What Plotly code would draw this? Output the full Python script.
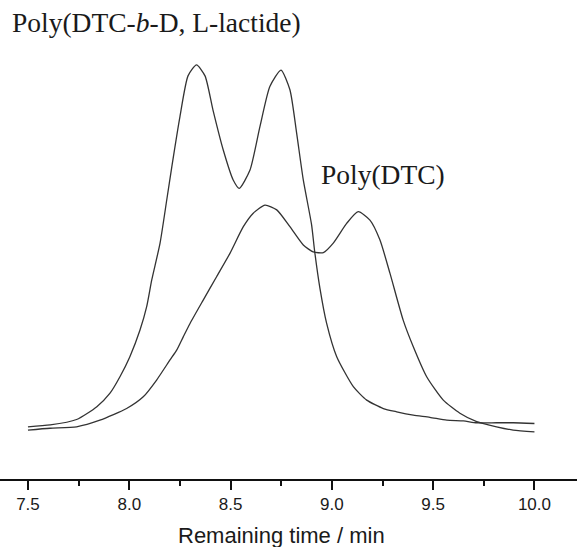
import plotly.graph_objects as go

# elution time (min) and detector signal (a.u.)
copolymer_time = [7.50, 7.61, 7.74, 7.84, 7.905, 7.954, 8.003, 8.053, 8.086, 8.111,
                  8.152, 8.185, 8.210, 8.250, 8.290, 8.332, 8.374, 8.413, 8.464, 8.513,
                  8.543, 8.596, 8.645, 8.694, 8.749, 8.793, 8.826, 8.859, 8.900, 8.915,
                  8.941, 8.974, 9.024, 9.106, 9.172, 9.254, 9.320, 9.402, 9.484, 9.567,
                  9.649, 9.715, 9.813, 9.895, 10.00]
copolymer_signal = [0.009, 0.014, 0.029, 0.064, 0.101, 0.146, 0.201, 0.274, 0.338, 0.411,
                    0.512, 0.630, 0.721, 0.858, 0.970, 1.000, 0.970, 0.877, 0.767, 0.685,
                    0.662, 0.712, 0.831, 0.941, 0.986, 0.932, 0.814, 0.685, 0.562, 0.490,
                    0.389, 0.293, 0.201, 0.119, 0.082, 0.059, 0.050, 0.041, 0.035, 0.027,
                    0.025, 0.020, 0.020, 0.020, 0.018]

homopolymer_time = [7.50, 7.609, 7.740, 7.855, 7.987, 8.069, 8.135, 8.201, 8.234, 8.267,
                    8.300, 8.365, 8.431, 8.497, 8.563, 8.612, 8.670, 8.728, 8.793, 8.859,
                    8.908, 8.958, 9.007, 9.073, 9.130, 9.188, 9.237, 9.287, 9.352, 9.402,
                    9.468, 9.550, 9.632, 9.715, 9.813, 9.895, 10.00]
homopolymer_signal = [0.000, 0.005, 0.009, 0.027, 0.059, 0.091, 0.137, 0.192, 0.219, 0.256,
                      0.292, 0.356, 0.420, 0.484, 0.557, 0.594, 0.616, 0.603, 0.557, 0.507,
                      0.488, 0.486, 0.512, 0.566, 0.598, 0.575, 0.521, 0.429, 0.301, 0.228,
                      0.146, 0.082, 0.046, 0.023, 0.009, 0.000, -0.005]

tick_values = [7.5, 8.0, 8.5, 9.0, 9.5, 10.0]
tick_labels = ['7.5', '8.0', '8.5', '9.0', '9.5', '10.0']

fig = go.Figure()
fig.add_trace(go.Scatter(
    x=copolymer_time,
    y=copolymer_signal,
    mode='lines',
    name='Poly(DTC-b-D, L-lactide)',
    line=dict(color='#333333', width=1.3, shape='spline', smoothing=0.6)
))
fig.add_trace(go.Scatter(
    x=homopolymer_time,
    y=homopolymer_signal,
    mode='lines',
    name='Poly(DTC)',
    line=dict(color='#333333', width=1.3, shape='spline', smoothing=0.6)
))

fig.add_annotation(
    text='Poly(DTC-<i>b</i>-D, L-lactide)',
    xref='paper', x=0.018, xanchor='left',
    yref='y', y=1.115, yanchor='middle',
    showarrow=False,
    font=dict(family='Liberation Serif', size=27.5, color='#1a1a1a')
)
fig.add_annotation(
    text='Poly(DTC)',
    xref='x', x=9.252, xanchor='center',
    yref='y', y=0.70, yanchor='middle',
    showarrow=False,
    font=dict(family='Liberation Serif', size=27.5, color='#1a1a1a')
)
fig.add_annotation(
    text='Remaining time / min',
    xref='x', x=8.75, xanchor='center',
    yref='paper', y=-0.124, yanchor='middle',
    showarrow=False,
    font=dict(family='Liberation Sans', size=22, color='#1a1a1a')
)

fig.update_layout(
    width=577,
    height=547,
    margin=dict(l=0, r=0, t=20, b=68),
    paper_bgcolor='white',
    plot_bgcolor='white',
    showlegend=False,
    xaxis=dict(
        range=[7.362, 10.21],
        showgrid=False,
        zeroline=False,
        showline=True,
        linecolor='#111111',
        linewidth=1.6,
        ticks='outside',
        ticklen=9,
        tickwidth=1.5,
        tickcolor='#111111',
        tickvals=tick_values,
        ticktext=tick_labels,
        tickfont=dict(family='Liberation Sans', size=17, color='#1a1a1a'),
        minor=dict(dtick=0.25, tick0=7.5, ticks='outside', ticklen=5,
                   tickwidth=1.5, tickcolor='#111111'),
    ),
    yaxis=dict(
        range=[-0.134, 1.123],
        visible=False,
    ),
)

# drop the browser's default body margin so the figure sits at the page corner
fig.write_html("out.html", config={'displayModeBar': False},
               post_script="document.body.style.margin='0';")
